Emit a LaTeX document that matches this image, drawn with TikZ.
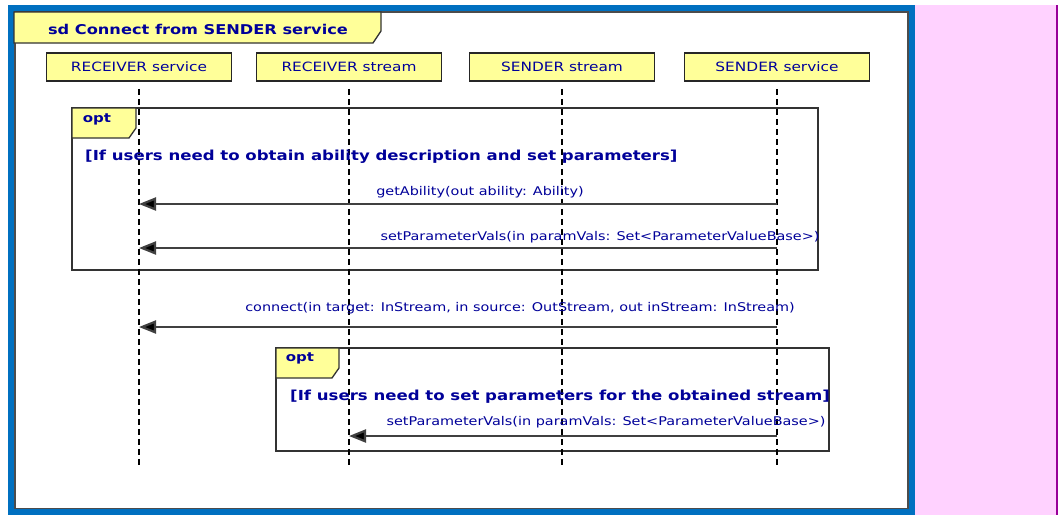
\documentclass[tikz,border=0pt]{standalone}
\usepackage{fontspec}
\setmainfont[FakeStretch=1.2]{DejaVu Sans}
\usetikzlibrary{positioning, arrows.meta}
\definecolor{umlyellow}{HTML}{FFFF99}
\definecolor{umltext}{HTML}{000099}
\definecolor{frameblue}{HTML}{0070C0}
\definecolor{pinkbg}{HTML}{FFD2FF}
\definecolor{pinkedge}{HTML}{990099}
\tikzset{
  head/.style={draw=black!85, line width=1.8pt, fill=umlyellow, minimum width=185pt,
    minimum height=28pt, inner sep=0pt, font=\fontsize{12.8}{15}\selectfont, text=umltext},
  lifeline/.style={draw=black, line width=1.6pt, dash pattern=on 6pt off 4pt},
  msg/.style={draw=black!75, line width=2.2pt, -{Triangle[length=17pt,width=13pt,fill=black]}},
  msglabel/.style={font=\fontsize{12}{14}\selectfont, text=umltext, inner sep=0pt},
  guard/.style={font=\bfseries\fontsize{13.8}{15}\selectfont, text=umltext, anchor=west, inner sep=0pt},
  fragment/.style={draw=black!80, line width=1.6pt},
  tabbox/.style={draw=black!80, line width=1.3pt, fill=umlyellow},
  tablabel/.style={font=\bfseries\fontsize{12.5}{14}\selectfont, text=umltext, inner sep=0pt},
}

\begin{document}
\begin{tikzpicture}[x=1pt, y=-1pt]
    \useasboundingbox (0,0) rectangle (1060,515);

    % side panel and outer frame
    \fill[pinkbg] (915,5) rectangle (1057,515);
    \draw[pinkedge, line width=1.2pt] (1057,5) -- (1057,515);
    \fill[white] (11,8) rectangle (912,512);
    \draw[frameblue, line width=6pt] (11,8) rectangle (911.5,511.5);
    \draw[black!70, line width=1.5pt] (14.75,11.75) rectangle (907.75,508.25);

    % diagram name
    \draw[tabbox] (14,12) -- (381,12) -- (381,31) -- (373,43) -- (14,43) -- cycle;
    \node[tablabel, font=\bfseries\fontsize{13.5}{16}\selectfont] (title) at (198,29) {sd Connect from SENDER service};

    % lifeline heads
    \node[head] (rsvc) at (139,67) {RECEIVER service};
    \node[head] (rstr) at (349,67) {RECEIVER stream};
    \node[head] (sstr) at (562,67) {SENDER stream};
    \node[head] (ssvc) at (777,67) {SENDER service};

    % combined fragments
    \draw[fragment] (72,108) rectangle (818,270);
    \draw[tabbox] (72,108) -- (136,108) -- (136,128) -- (129,138) -- (72,138) -- cycle;
    \node[tablabel] (opt1) at (97,119) {opt};

    \draw[fragment] (276,348) rectangle (829,451);
    \draw[tabbox] (276,348) -- (339,348) -- (339,368) -- (332,378) -- (276,378) -- cycle;
    \node[tablabel] (opt2) at (300,358) {opt};

    % lifelines
    \coordinate (bottom) at (0,468);
    \foreach \l in {rsvc, rstr, sstr, ssvc}
        \draw[lifeline] ([yshift=-7pt]\l.south) -- (\l |- bottom);

    % guards
    \node[guard] (g1) at (85,157) {[If users need to obtain ability description and set parameters]};
    \node[guard] (g2) at (290,397) {[If users need to set parameters for the obtained stream]};

    % messages
    \coordinate (m1) at (0,204);
    \coordinate (m2) at (0,248);
    \coordinate (m3) at (0,327);
    \coordinate (m4) at (0,436);
    \draw[msg] (ssvc |- m1) -- (rsvc |- m1);
    \draw[msg] (ssvc |- m2) -- (rsvc |- m2);
    \draw[msg] (ssvc |- m3) -- (rsvc |- m3);
    \draw[msg] (ssvc |- m4) -- (rstr |- m4);

    \node[msglabel] (l1) at (480,192) {getAbility(out ability: Ability)};
    \node[msglabel] (l2) at (600,237) {setParameterVals(in paramVals: Set<ParameterValueBase>)};
    \node[msglabel] (l3) at (520,308) {connect(in target: InStream, in source: OutStream, out inStream: InStream)};
    \node[msglabel] (l4) at (606,422) {setParameterVals(in paramVals: Set<ParameterValueBase>)};
\end{tikzpicture}
\end{document}
